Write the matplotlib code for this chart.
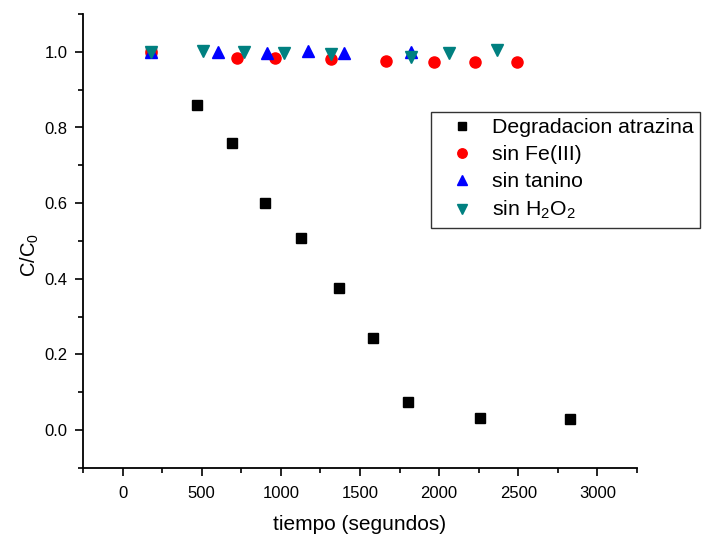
import matplotlib
matplotlib.use("Agg")
import matplotlib.pyplot as plt
from matplotlib.ticker import MultipleLocator

plt.rcParams['font.family'] = ['Liberation Sans', 'DejaVu Sans']
plt.rcParams['mathtext.fontset'] = 'custom'
plt.rcParams['mathtext.rm'] = 'Liberation Sans'
plt.rcParams['mathtext.it'] = 'Liberation Sans'

# Atrazine degradation and control runs
t_atrazina = [180, 472, 692, 899, 1126, 1365, 1579, 1805, 2258, 2824]
c_atrazina = [1.0, 0.860, 0.760, 0.600, 0.507, 0.375, 0.243, 0.074, 0.031, 0.029]

t_sin_fe = [180, 723, 965, 1318, 1667, 1970, 2226, 2489]
c_sin_fe = [1.0, 0.984, 0.984, 0.982, 0.977, 0.973, 0.973, 0.973]

t_sin_tanino = [180, 602, 910, 1172, 1398, 1822]
c_sin_tanino = [1.0, 1.0, 0.997, 1.002, 0.997, 1.0]

t_sin_h2o2 = [180, 507, 769, 1021, 1315, 1822, 2065, 2363]
c_sin_h2o2 = [1.0, 1.003, 1.0, 0.998, 0.995, 0.986, 0.998, 1.004]

fig = plt.figure(figsize=(7.02, 5.36), dpi=100)
ax = fig.add_axes([83/702, 1-468/536, (637-83)/702, (468-14)/536])

ax.plot(t_atrazina, c_atrazina, 's', color='black', ms=7, mec='black',
        label='Degradacion atrazina')
ax.plot(t_sin_fe, c_sin_fe, 'o', color='#ff0000', ms=8, mec='#ff0000',
        label='sin Fe(III)')
ax.plot(t_sin_tanino, c_sin_tanino, '^', color='#0000ff', ms=8.5, mec='#0000ff',
        label='sin tanino')
ax.plot(t_sin_h2o2, c_sin_h2o2, 'v', color='#008080', ms=8.5, mec='#008080',
        label='sin H$_2$O$_2$')

ax.set_xlim(-250, 3250)
ax.set_ylim(-0.1, 1.1)
ax.xaxis.set_major_locator(MultipleLocator(500))
ax.xaxis.set_minor_locator(MultipleLocator(250))
ax.yaxis.set_major_locator(MultipleLocator(0.2))
ax.yaxis.set_minor_locator(MultipleLocator(0.1))
ax.yaxis.set_major_formatter(plt.FuncFormatter(lambda v, p: f"{v:.1f}"))

for s in ['top', 'right']:
    ax.spines[s].set_visible(False)
for s in ['left', 'bottom']:
    ax.spines[s].set_linewidth(1.3)

ax.tick_params(which='major', direction='out', length=6, width=1.2, labelsize=12)
ax.tick_params(which='minor', direction='out', length=3.5, width=1.2)
ax.tick_params(axis='x', which='major', pad=7)
ax.tick_params(axis='y', which='major', pad=5)

ax.set_xlabel('tiempo (segundos)', fontsize=15, labelpad=10)
ax.set_ylabel('C/C$_0$', fontsize=14.5)
ax.yaxis.set_label_coords(-0.076, 0.47)

leg = ax.legend(loc='upper left', bbox_to_anchor=(0.628, 0.784), fontsize=15.3,
                frameon=True, fancybox=False, edgecolor='black',
                borderaxespad=0, handletextpad=0.26, borderpad=0.3,
                labelspacing=0.37, handlelength=2.3, markerscale=0.85)
leg.get_frame().set_linewidth(1.0)

fig.savefig('out.png', dpi=100)
